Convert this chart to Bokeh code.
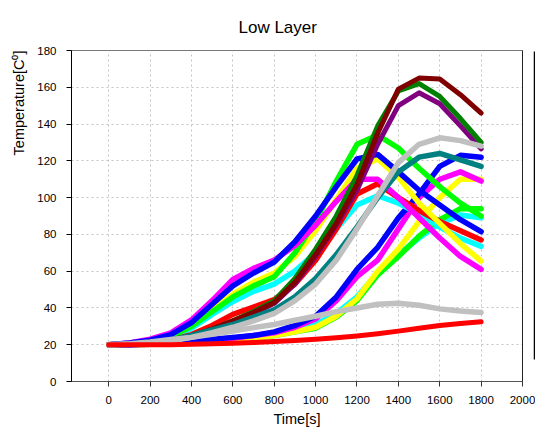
from bokeh.plotting import figure
from bokeh.models import Range1d, FixedTicker, Title, LinearAxis
from bokeh.embed import file_html
from bokeh.resources import INLINE

# ---- data ----
time_s = [0, 100, 200, 300, 400, 500, 600, 700, 800, 900, 1000, 1100, 1200, 1300, 1400, 1500, 1600, 1700, 1800]

cyan_late    = [20, 20, 20.2, 20.5, 21, 21.7, 22.8, 24, 25.5, 28, 31, 37, 46, 59, 69, 78, 86, 90.5, 89]
green_late   = [20, 20, 20.2, 20.5, 21, 21.5, 22.5, 23.5, 25, 27, 29, 35, 44, 58, 68, 79, 88, 94, 94]
yellow_late  = [20, 20, 20.2, 20.5, 21, 21.5, 22.5, 23.5, 25, 27, 29.5, 35.5, 45, 60, 72, 87, 100, 110, 110]
magenta_late = [20, 20, 20.3, 20.8, 21.5, 22.5, 23.5, 25, 26.5, 29.5, 34, 44, 57, 66, 83, 100, 110, 114, 109]
blue_late    = [20, 20, 20.5, 21, 22, 23, 24, 25, 27, 30.5, 35.5, 46, 61, 73, 89, 102, 117, 123, 122]

cyan_early    = [20, 20.5, 21.5, 24, 29, 36.5, 43.5, 49, 53, 60, 70, 83, 96, 101, 97, 91, 84, 78, 73.5]
red_early     = [20, 20.2, 21, 22.5, 25.5, 30.5, 36.5, 40.5, 44.5, 53, 66, 83, 102, 107.5, 100, 93, 87, 82, 77]
yellow_early  = [20, 20.5, 22, 24.5, 30.5, 39, 47.5, 54, 59, 68, 82, 99, 116, 121, 111, 97, 86, 75, 65.5]
green_early   = [20, 20.5, 22, 24.5, 30, 38, 46, 52, 57, 70, 87, 109, 129, 134, 127, 116, 106, 97, 90]
magenta_early = [20, 21, 23, 26.5, 33.5, 44, 55.5, 61.5, 66, 74, 85, 98, 110, 110, 100, 89, 78, 68, 61]
blue_early    = [20, 21, 22.5, 25.5, 32, 42, 52, 59, 65, 76, 90, 106, 121, 123.5, 114, 104, 96, 88, 81.5]

purple   = [20, 20.2, 21, 22.5, 25, 28.5, 32.5, 37, 42.5, 53, 68, 85, 104, 129, 150, 157, 151, 139, 126.5]
green_dk = [20, 20.2, 21, 22.5, 25, 28.5, 33, 38, 44, 56, 72, 90, 112, 139, 158, 162, 155, 143, 130]
maroon   = [20, 20.2, 21, 22.5, 25, 28.5, 33, 37.5, 43, 54, 69, 86, 107, 135, 159, 165, 164.5, 156, 146]
teal     = [20, 20.2, 21, 22.5, 25, 28, 31, 35, 39, 46, 56, 69, 84, 100, 114, 122, 124, 120.5, 117]
grey_big = [20, 20.2, 20.8, 22, 24, 26.5, 29.5, 33, 37, 44, 53, 66, 83, 101, 119, 129, 132.5, 131, 128]
grey_low = [20, 20.5, 21.5, 22.8, 24, 25.7, 27.4, 29.3, 31, 33.3, 35.5, 38, 40, 42, 42.5, 41.5, 39.5, 38.3, 37.5]
red_low  = [20, 20, 20, 20, 20.2, 20.5, 20.8, 21.2, 21.7, 22.3, 23, 23.8, 24.8, 26, 27.4, 29, 30.5, 31.6, 32.5]

x_ticks = [0, 200, 400, 600, 800, 1000, 1200, 1400, 1600, 1800, 2000]
y_ticks = [0, 20, 40, 60, 80, 100, 120, 140, 160, 180]

series = [
    (cyan_late, "#00ffff", 5.5), (green_late, "#00ff00", 5.5), (yellow_late, "#ffff00", 5.5),
    (magenta_late, "#ff00ff", 5.5), (blue_late, "#0000ff", 5.5),
    (cyan_early, "#00ffff", 5.5), (red_early, "#ff0000", 5.5), (yellow_early, "#ffff00", 5.5),
    (green_early, "#00ff00", 5.5), (magenta_early, "#ff00ff", 5.5), (blue_early, "#0000ff", 5.5),
    (purple, "#800080", 5), (green_dk, "#008000", 5), (maroon, "#800000", 5),
    (teal, "#008080", 5.5), (grey_big, "#c0c0c0", 5.5), (grey_low, "#c0c0c0", 5.5), (red_low, "#ff0000", 5),
]

FONT = "Liberation Sans"

p = figure(width=535, height=436, output_backend="svg", toolbar_location=None,
           x_range=Range1d(-180, 2000), y_range=Range1d(0, 180),
           min_border_left=71, min_border_right=13, min_border_top=50, min_border_bottom=55)

for ys, col, w in series:
    p.line(time_s, ys, line_color=col, line_width=w, line_join="round", line_cap="round")

p.title.text = "Low Layer"
p.title.text_font = FONT
p.title.text_font_size = "17px"
p.title.text_font_style = "normal"
p.title.text_color = "#000000"
p.title.align = "left"
p.title.vertical_align = "top"
p.title.offset = 167
p.title.standoff = 24

ytitle = Title(text="Temperature[C\u2070]", align="right", text_font=FONT,
               text_font_size="14.5px", text_font_style="normal", text_color="#000000",
               standoff=15)
p.add_layout(ytitle, "left")

p.xaxis.ticker = FixedTicker(ticks=x_ticks)
p.yaxis.ticker = FixedTicker(ticks=y_ticks)
p.xaxis.axis_label = "Time[s]"
for ax in (p.xaxis[0], p.yaxis[0]):
    ax.axis_label_text_font = FONT
    ax.axis_label_text_font_size = "14.5px"
    ax.axis_label_text_font_style = "normal"
    ax.axis_label_text_color = "#000000"
    ax.major_label_text_font = FONT
    ax.major_label_text_font_size = "11.5px"
    ax.major_label_text_color = "#000000"
    ax.major_tick_in = 0
    ax.major_tick_out = 5
    ax.minor_tick_out = 0
    ax.minor_tick_in = 0
p.xaxis.axis_line_color = "#555555"
p.xaxis.major_tick_line_color = "#333333"
p.yaxis.axis_line_color = "#000000"
p.yaxis.major_tick_line_color = "#000000"
p.xaxis.major_label_standoff = 9
p.xaxis.axis_label_standoff = 4
p.yaxis.major_label_standoff = 10

# right frame edge and the (cut-off) legend box edge
edge = LinearAxis(ticker=FixedTicker(ticks=[90]), major_tick_out=12, major_tick_in=0,
                  major_tick_line_alpha=0, major_label_overrides={90: ""},
                  major_label_standoff=0, minor_tick_out=0, minor_tick_in=0,
                  axis_line_color="#222222")
p.add_layout(edge, "right")
legend_edge = LinearAxis(ticker=FixedTicker(ticks=[]), major_tick_out=0, major_tick_in=0,
                         major_label_standoff=0, minor_tick_out=0, minor_tick_in=0,
                         axis_line_color="#000000", axis_line_width=1.5, bounds=(12, 179.5))
p.add_layout(legend_edge, "right")

p.xgrid.ticker = FixedTicker(ticks=x_ticks)
p.ygrid.ticker = FixedTicker(ticks=y_ticks)
p.grid.grid_line_color = "#c4c4c4"
p.grid.grid_line_dash = "2 3"
p.grid.grid_line_width = 1
p.outline_line_color = "#777777"
p.outline_line_width = 1
p.background_fill_color = "white"
p.border_fill_color = "white"

open("out.html", "w").write(file_html(p, INLINE))
